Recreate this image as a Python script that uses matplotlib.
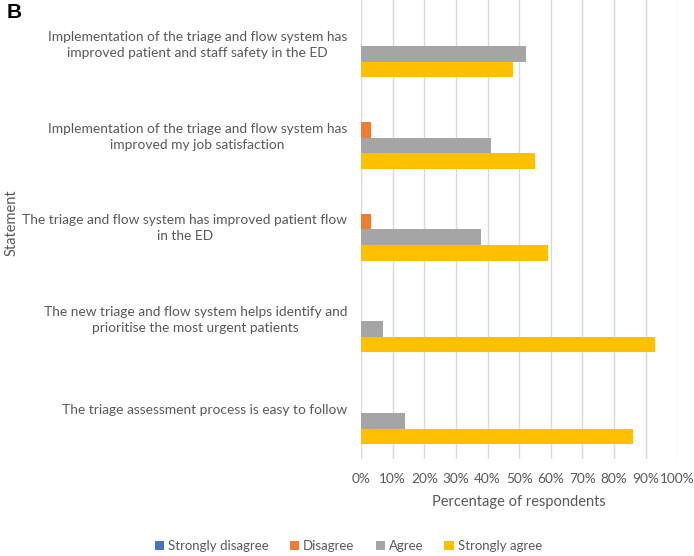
import numpy as np
import matplotlib
matplotlib.use("Agg")
import matplotlib.pyplot as plt
import matplotlib.transforms as mtransforms
from matplotlib.ticker import PercentFormatter

# ------------------------- data -------------------------
statements = [
    "Implementation of the triage and flow system has\nimproved patient and staff safety in the ED",
    "Implementation of the triage and flow system has\nimproved my job satisfaction",
    "The triage and flow system has improved patient flow\nin the ED",
    "The new triage and flow system helps identify and\nprioritise the most urgent patients",
    "The triage assessment process is easy to follow",
]
strongly_disagree = [0, 0, 0, 0, 0]
disagree = [0, 3, 3, 0, 0]
agree = [52, 41, 38, 7, 14]
strongly_agree = [48, 55, 59, 93, 86]

series_names = ["Strongly disagree", "Disagree", "Agree", "Strongly agree"]
colors = ["#4472C4", "#ED7D31", "#A5A5A5", "#FFC000"]
TEXT = "#595959"

plt.rcParams['font.family'] = ['Lato', 'DejaVu Sans']

fig = plt.figure(figsize=(6.94, 5.56), dpi=100)
ax = fig.add_axes([0.5202, 0.1745, 0.976 - 0.5202, 0.8255])

y = np.arange(len(statements))
h = 0.17
all_series = [strongly_disagree, disagree, agree, strongly_agree]
for k, (vals, name, col) in enumerate(zip(all_series, series_names, colors)):
    ax.barh(y + (k - 1.5) * h, vals, height=h, color=col, label=name, zorder=3)

ax.set_ylim(len(statements) - 0.5, -0.5)
ax.set_xlim(0, 100)
ax.set_xticks(np.arange(0, 101, 10))
ax.xaxis.set_major_formatter(PercentFormatter(decimals=0))
ax.grid(axis='x', color='#D9D9D9', linewidth=1, zorder=0)
for s in ax.spines.values():
    s.set_visible(False)
ax.tick_params(axis='x', length=0, colors=TEXT, labelsize=9.8, pad=10)
ax.tick_params(axis='y', length=0, pad=10)
ax.set_yticks(y)
ax.set_yticklabels(statements, fontsize=9.9, color=TEXT, ha='right', ma='center',
                   linespacing=1.4)
# nudge the statement labels up a little so they sit centred on the bar group
shift = mtransforms.ScaledTranslation(0, 3 / 72, fig.dpi_scale_trans)
for lab in ax.get_yticklabels():
    lab.set_transform(lab.get_transform() + shift)

ax.set_xlabel("Percentage of respondents", fontsize=10.5, color=TEXT, labelpad=7)
fig.text(0.016, 0.60, "Statement", rotation=90, fontsize=10.5, color=TEXT,
         ha='center', va='center')

fig.text(0.01, 0.995, "B", fontsize=15, fontweight='bold', family='Liberation Sans',
         ha='left', va='top', color='black')

fig.legend(loc='lower center', bbox_to_anchor=(0.502, -0.014), ncol=4, frameon=False,
           fontsize=9.5, labelcolor=TEXT, handlelength=0.7, handleheight=0.7,
           handletextpad=0.3, columnspacing=1.6)

fig.savefig("out.png", dpi=100)
